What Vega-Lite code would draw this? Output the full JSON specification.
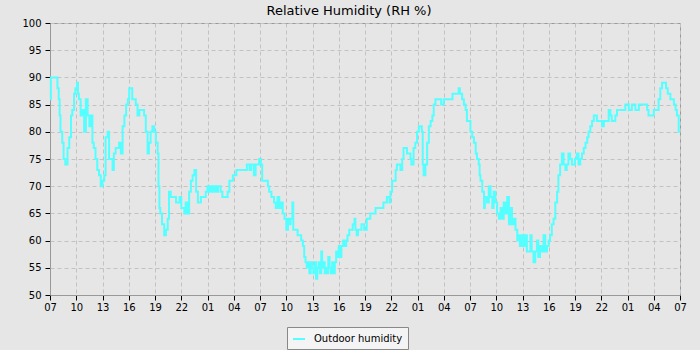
{
"$schema": "https://vega.github.io/schema/vega-lite/v6.json",
"width": 630, "height": 272,
"autosize": {"type": "none"},
"padding": {"left": 50, "top": 23, "right": 20, "bottom": 55},
"background": "#e6e6e6",
"title": {"text": "Relative Humidity (RH %)", "font": "DejaVu Sans", "fontSize": 13, "fontWeight": "normal", "color": "#000000", "anchor": "middle", "frame": "group", "baseline": "alphabetic", "offset": 2, "dx": -16, "dy": 12},
"config": {
  "font": "DejaVu Sans",
  "view": {"stroke": "#999999", "strokeWidth": 1},
  "axis": {"labelFont": "DejaVu Sans", "labelFontSize": 10, "labelColor": "#000000", "tickColor": "#000000", "domainColor": "#999999", "gridColor": "#c2c2c2", "gridDash": [4, 3]},
  "legend": {"orient": "none", "legendX": 237, "legendY": 304, "symbolType": "stroke", "symbolSize": 144, "symbolStrokeWidth": 2, "labelFont": "DejaVu Sans", "labelFontSize": 10, "labelColor": "#000000", "fillColor": "#f4f4f4", "strokeColor": "#888888", "padding": 5, "labelOffset": 8}
},
"data": {"values": [
{"time":"2024-05-01T07:00","rh":86},{"time":"2024-05-01T07:06","rh":90},{"time":"2024-05-01T07:42","rh":90},{"time":"2024-05-01T07:51","rh":88},
{"time":"2024-05-01T08:00","rh":86},{"time":"2024-05-01T08:06","rh":83},{"time":"2024-05-01T08:12","rh":80},{"time":"2024-05-01T08:24","rh":78},
{"time":"2024-05-01T08:33","rh":75},{"time":"2024-05-01T08:45","rh":74},{"time":"2024-05-01T09:00","rh":77},{"time":"2024-05-01T09:12","rh":79},
{"time":"2024-05-01T09:24","rh":83},{"time":"2024-05-01T09:33","rh":84},{"time":"2024-05-01T09:45","rh":87},{"time":"2024-05-01T09:54","rh":88},
{"time":"2024-05-01T10:06","rh":89},{"time":"2024-05-01T10:12","rh":87},{"time":"2024-05-01T10:18","rh":86},{"time":"2024-05-01T10:30","rh":83},
{"time":"2024-05-01T10:42","rh":84},{"time":"2024-05-01T10:54","rh":80},{"time":"2024-05-01T11:06","rh":86},{"time":"2024-05-01T11:18","rh":83},
{"time":"2024-05-01T11:30","rh":81},{"time":"2024-05-01T11:39","rh":83},{"time":"2024-05-01T11:51","rh":78},{"time":"2024-05-01T12:00","rh":77},
{"time":"2024-05-01T12:12","rh":75},{"time":"2024-05-01T12:24","rh":73},{"time":"2024-05-01T12:36","rh":72},{"time":"2024-05-01T12:48","rh":70},
{"time":"2024-05-01T13:00","rh":71},{"time":"2024-05-01T13:12","rh":72},{"time":"2024-05-01T13:21","rh":79},{"time":"2024-05-01T13:36","rh":80},
{"time":"2024-05-01T13:45","rh":75},{"time":"2024-05-01T13:57","rh":75},{"time":"2024-05-01T14:09","rh":73},{"time":"2024-05-01T14:18","rh":76},
{"time":"2024-05-01T14:30","rh":77},{"time":"2024-05-01T14:54","rh":78},{"time":"2024-05-01T15:06","rh":76},{"time":"2024-05-01T15:18","rh":81},
{"time":"2024-05-01T15:30","rh":83},{"time":"2024-05-01T15:42","rh":85},{"time":"2024-05-01T15:54","rh":86},{"time":"2024-05-01T16:03","rh":88},
{"time":"2024-05-01T16:15","rh":88},{"time":"2024-05-01T16:24","rh":86},{"time":"2024-05-01T16:48","rh":85},{"time":"2024-05-01T17:00","rh":83},
{"time":"2024-05-01T17:12","rh":84},{"time":"2024-05-01T17:36","rh":84},{"time":"2024-05-01T17:45","rh":83},{"time":"2024-05-01T17:57","rh":80},
{"time":"2024-05-01T18:09","rh":76},{"time":"2024-05-01T18:18","rh":78},{"time":"2024-05-01T18:30","rh":80},{"time":"2024-05-01T18:42","rh":81},
{"time":"2024-05-01T18:54","rh":80},{"time":"2024-05-01T19:06","rh":78},{"time":"2024-05-01T19:18","rh":76},{"time":"2024-05-01T19:24","rh":70},
{"time":"2024-05-01T19:30","rh":66},{"time":"2024-05-01T19:36","rh":65},{"time":"2024-05-01T19:48","rh":63},{"time":"2024-05-01T20:03","rh":61},
{"time":"2024-05-01T20:15","rh":62},{"time":"2024-05-01T20:27","rh":64},{"time":"2024-05-01T20:36","rh":69},{"time":"2024-05-01T20:48","rh":68},
{"time":"2024-05-01T21:00","rh":68},{"time":"2024-05-01T21:24","rh":67},{"time":"2024-05-01T21:48","rh":68},{"time":"2024-05-01T22:00","rh":66},
{"time":"2024-05-01T22:21","rh":65},{"time":"2024-05-01T22:30","rh":67},{"time":"2024-05-01T22:42","rh":65},{"time":"2024-05-01T22:54","rh":69},
{"time":"2024-05-01T23:06","rh":71},{"time":"2024-05-01T23:18","rh":72},{"time":"2024-05-01T23:30","rh":73},{"time":"2024-05-01T23:42","rh":69},
{"time":"2024-05-01T23:54","rh":67},{"time":"2024-05-02T00:15","rh":68},{"time":"2024-05-02T00:36","rh":68},{"time":"2024-05-02T00:48","rh":69},
{"time":"2024-05-02T01:00","rh":70},{"time":"2024-05-02T01:12","rh":69},{"time":"2024-05-02T01:24","rh":70},{"time":"2024-05-02T01:36","rh":69},
{"time":"2024-05-02T01:48","rh":70},{"time":"2024-05-02T02:00","rh":69},{"time":"2024-05-02T02:12","rh":70},{"time":"2024-05-02T02:30","rh":69},
{"time":"2024-05-02T02:42","rh":68},{"time":"2024-05-02T03:06","rh":68},{"time":"2024-05-02T03:18","rh":69},{"time":"2024-05-02T03:30","rh":71},
{"time":"2024-05-02T03:54","rh":72},{"time":"2024-05-02T04:18","rh":73},{"time":"2024-05-02T04:48","rh":73},{"time":"2024-05-02T05:12","rh":73},
{"time":"2024-05-02T05:30","rh":74},{"time":"2024-05-02T05:48","rh":73},{"time":"2024-05-02T06:00","rh":74},{"time":"2024-05-02T06:18","rh":72},
{"time":"2024-05-02T06:30","rh":74},{"time":"2024-05-02T06:42","rh":74},{"time":"2024-05-02T06:54","rh":75},{"time":"2024-05-02T07:06","rh":74},
{"time":"2024-05-02T07:15","rh":71},{"time":"2024-05-02T07:30","rh":71},{"time":"2024-05-02T07:54","rh":70},{"time":"2024-05-02T08:03","rh":69},
{"time":"2024-05-02T08:18","rh":68},{"time":"2024-05-02T08:30","rh":68},{"time":"2024-05-02T08:36","rh":67},{"time":"2024-05-02T08:48","rh":66},
{"time":"2024-05-02T09:00","rh":68},{"time":"2024-05-02T09:12","rh":66},{"time":"2024-05-02T09:24","rh":67},{"time":"2024-05-02T09:36","rh":65},
{"time":"2024-05-02T09:48","rh":64},{"time":"2024-05-02T10:00","rh":62},{"time":"2024-05-02T10:12","rh":64},{"time":"2024-05-02T10:21","rh":63},
{"time":"2024-05-02T10:30","rh":64},{"time":"2024-05-02T10:42","rh":67},{"time":"2024-05-02T10:48","rh":62},{"time":"2024-05-02T11:00","rh":62},
{"time":"2024-05-02T11:18","rh":61},{"time":"2024-05-02T11:30","rh":61},{"time":"2024-05-02T11:42","rh":60},{"time":"2024-05-02T11:54","rh":59},
{"time":"2024-05-02T12:03","rh":57},{"time":"2024-05-02T12:12","rh":56},{"time":"2024-05-02T12:21","rh":55},{"time":"2024-05-02T12:30","rh":56},
{"time":"2024-05-02T12:39","rh":54},{"time":"2024-05-02T12:48","rh":56},{"time":"2024-05-02T12:57","rh":55},{"time":"2024-05-02T13:06","rh":54},
{"time":"2024-05-02T13:15","rh":56},{"time":"2024-05-02T13:24","rh":53},{"time":"2024-05-02T13:33","rh":55},{"time":"2024-05-02T13:42","rh":56},
{"time":"2024-05-02T13:51","rh":54},{"time":"2024-05-02T14:00","rh":58},{"time":"2024-05-02T14:06","rh":55},{"time":"2024-05-02T14:15","rh":56},
{"time":"2024-05-02T14:24","rh":54},{"time":"2024-05-02T14:33","rh":55},{"time":"2024-05-02T14:42","rh":54},{"time":"2024-05-02T14:48","rh":57},
{"time":"2024-05-02T14:57","rh":55},{"time":"2024-05-02T15:06","rh":54},{"time":"2024-05-02T15:15","rh":56},{"time":"2024-05-02T15:24","rh":54},
{"time":"2024-05-02T15:33","rh":56},{"time":"2024-05-02T15:42","rh":58},{"time":"2024-05-02T15:51","rh":57},{"time":"2024-05-02T16:00","rh":59},
{"time":"2024-05-02T16:09","rh":57},{"time":"2024-05-02T16:18","rh":59},{"time":"2024-05-02T16:30","rh":60},{"time":"2024-05-02T16:42","rh":59},
{"time":"2024-05-02T16:51","rh":60},{"time":"2024-05-02T17:00","rh":61},{"time":"2024-05-02T17:12","rh":62},{"time":"2024-05-02T17:24","rh":62},
{"time":"2024-05-02T17:36","rh":63},{"time":"2024-05-02T17:48","rh":64},{"time":"2024-05-02T17:54","rh":62},{"time":"2024-05-02T18:03","rh":61},
{"time":"2024-05-02T18:12","rh":62},{"time":"2024-05-02T18:24","rh":62},{"time":"2024-05-02T18:36","rh":63},{"time":"2024-05-02T18:45","rh":63},
{"time":"2024-05-02T18:54","rh":62},{"time":"2024-05-02T19:12","rh":64},{"time":"2024-05-02T19:36","rh":65},{"time":"2024-05-02T20:00","rh":65},
{"time":"2024-05-02T20:12","rh":66},{"time":"2024-05-02T20:45","rh":66},{"time":"2024-05-02T21:06","rh":67},{"time":"2024-05-02T21:30","rh":68},
{"time":"2024-05-02T21:48","rh":67},{"time":"2024-05-02T21:54","rh":69},{"time":"2024-05-02T22:06","rh":71},{"time":"2024-05-02T22:18","rh":71},
{"time":"2024-05-02T22:30","rh":73},{"time":"2024-05-02T22:39","rh":74},{"time":"2024-05-02T22:51","rh":74},{"time":"2024-05-02T23:03","rh":73},
{"time":"2024-05-02T23:15","rh":75},{"time":"2024-05-02T23:24","rh":77},{"time":"2024-05-02T23:36","rh":77},{"time":"2024-05-02T23:48","rh":76},
{"time":"2024-05-03T00:00","rh":76},{"time":"2024-05-03T00:12","rh":75},{"time":"2024-05-03T00:18","rh":74},{"time":"2024-05-03T00:33","rh":77},
{"time":"2024-05-03T00:45","rh":78},{"time":"2024-05-03T00:57","rh":80},{"time":"2024-05-03T01:09","rh":81},{"time":"2024-05-03T01:21","rh":81},
{"time":"2024-05-03T01:30","rh":80},{"time":"2024-05-03T01:36","rh":74},{"time":"2024-05-03T01:42","rh":72},{"time":"2024-05-03T01:54","rh":74},
{"time":"2024-05-03T02:06","rh":78},{"time":"2024-05-03T02:18","rh":81},{"time":"2024-05-03T02:30","rh":82},{"time":"2024-05-03T02:42","rh":83},
{"time":"2024-05-03T02:51","rh":85},{"time":"2024-05-03T03:03","rh":86},{"time":"2024-05-03T03:27","rh":86},{"time":"2024-05-03T03:42","rh":85},
{"time":"2024-05-03T03:54","rh":85},{"time":"2024-05-03T04:00","rh":86},{"time":"2024-05-03T04:48","rh":86},{"time":"2024-05-03T05:00","rh":87},
{"time":"2024-05-03T05:30","rh":87},{"time":"2024-05-03T05:42","rh":88},{"time":"2024-05-03T05:51","rh":87},{"time":"2024-05-03T06:06","rh":86},
{"time":"2024-05-03T06:18","rh":85},{"time":"2024-05-03T06:30","rh":84},{"time":"2024-05-03T06:39","rh":82},{"time":"2024-05-03T06:51","rh":82},
{"time":"2024-05-03T07:03","rh":80},{"time":"2024-05-03T07:15","rh":79},{"time":"2024-05-03T07:27","rh":78},{"time":"2024-05-03T07:39","rh":76},
{"time":"2024-05-03T07:48","rh":75},{"time":"2024-05-03T08:00","rh":74},{"time":"2024-05-03T08:06","rh":72},{"time":"2024-05-03T08:12","rh":71},
{"time":"2024-05-03T08:24","rh":69},{"time":"2024-05-03T08:36","rh":66},{"time":"2024-05-03T08:42","rh":68},{"time":"2024-05-03T08:57","rh":67},
{"time":"2024-05-03T09:09","rh":70},{"time":"2024-05-03T09:21","rh":68},{"time":"2024-05-03T09:33","rh":66},{"time":"2024-05-03T09:42","rh":69},
{"time":"2024-05-03T09:54","rh":67},{"time":"2024-05-03T10:06","rh":65},{"time":"2024-05-03T10:18","rh":64},{"time":"2024-05-03T10:30","rh":66},
{"time":"2024-05-03T10:42","rh":64},{"time":"2024-05-03T10:51","rh":67},{"time":"2024-05-03T11:03","rh":65},{"time":"2024-05-03T11:15","rh":68},
{"time":"2024-05-03T11:27","rh":63},{"time":"2024-05-03T11:36","rh":66},{"time":"2024-05-03T11:48","rh":63},{"time":"2024-05-03T12:00","rh":64},
{"time":"2024-05-03T12:12","rh":62},{"time":"2024-05-03T12:24","rh":60},{"time":"2024-05-03T12:33","rh":61},{"time":"2024-05-03T12:42","rh":59},
{"time":"2024-05-03T12:54","rh":61},{"time":"2024-05-03T13:06","rh":59},{"time":"2024-05-03T13:18","rh":61},{"time":"2024-05-03T13:30","rh":58},
{"time":"2024-05-03T13:42","rh":58},{"time":"2024-05-03T13:54","rh":61},{"time":"2024-05-03T14:03","rh":58},{"time":"2024-05-03T14:15","rh":56},
{"time":"2024-05-03T14:27","rh":58},{"time":"2024-05-03T14:39","rh":60},{"time":"2024-05-03T14:48","rh":57},{"time":"2024-05-03T15:00","rh":59},
{"time":"2024-05-03T15:12","rh":58},{"time":"2024-05-03T15:24","rh":61},{"time":"2024-05-03T15:36","rh":58},{"time":"2024-05-03T15:48","rh":59},
{"time":"2024-05-03T16:00","rh":60},{"time":"2024-05-03T16:09","rh":61},{"time":"2024-05-03T16:21","rh":63},{"time":"2024-05-03T16:33","rh":64},
{"time":"2024-05-03T16:45","rh":67},{"time":"2024-05-03T16:57","rh":69},{"time":"2024-05-03T17:06","rh":72},{"time":"2024-05-03T17:18","rh":74},
{"time":"2024-05-03T17:30","rh":76},{"time":"2024-05-03T17:42","rh":74},{"time":"2024-05-03T17:54","rh":73},{"time":"2024-05-03T18:03","rh":74},
{"time":"2024-05-03T18:15","rh":76},{"time":"2024-05-03T18:27","rh":75},{"time":"2024-05-03T18:39","rh":74},{"time":"2024-05-03T19:00","rh":75},
{"time":"2024-05-03T19:12","rh":76},{"time":"2024-05-03T19:24","rh":74},{"time":"2024-05-03T19:36","rh":75},{"time":"2024-05-03T19:48","rh":76},
{"time":"2024-05-03T20:00","rh":77},{"time":"2024-05-03T20:12","rh":78},{"time":"2024-05-03T20:24","rh":79},{"time":"2024-05-03T20:33","rh":80},
{"time":"2024-05-03T20:45","rh":81},{"time":"2024-05-03T20:57","rh":82},{"time":"2024-05-03T21:09","rh":83},{"time":"2024-05-03T21:18","rh":83},
{"time":"2024-05-03T21:30","rh":82},{"time":"2024-05-03T21:54","rh":82},{"time":"2024-05-03T22:06","rh":81},{"time":"2024-05-03T22:18","rh":82},
{"time":"2024-05-03T22:51","rh":84},{"time":"2024-05-03T23:03","rh":83},{"time":"2024-05-03T23:12","rh":82},{"time":"2024-05-03T23:36","rh":83},
{"time":"2024-05-03T23:48","rh":84},{"time":"2024-05-04T00:24","rh":84},{"time":"2024-05-04T00:45","rh":85},{"time":"2024-05-04T01:09","rh":84},
{"time":"2024-05-04T01:30","rh":85},{"time":"2024-05-04T01:54","rh":84},{"time":"2024-05-04T02:18","rh":85},{"time":"2024-05-04T03:15","rh":84},
{"time":"2024-05-04T03:24","rh":83},{"time":"2024-05-04T04:00","rh":84},{"time":"2024-05-04T04:33","rh":86},{"time":"2024-05-04T04:45","rh":88},
{"time":"2024-05-04T04:57","rh":89},{"time":"2024-05-04T05:24","rh":88},{"time":"2024-05-04T05:36","rh":87},{"time":"2024-05-04T05:54","rh":86},
{"time":"2024-05-04T06:18","rh":85},{"time":"2024-05-04T06:30","rh":84},{"time":"2024-05-04T06:39","rh":83},{"time":"2024-05-04T06:51","rh":80},
{"time":"2024-05-04T07:00","rh":80}
]},
"mark": {"type": "line", "interpolate": "step-after", "strokeWidth": 2},
"encoding": {
  "x": {"field": "time", "type": "temporal",
    "scale": {"domain": [{"year": 2024, "month": 5, "date": 1, "hours": 7}, {"year": 2024, "month": 5, "date": 4, "hours": 7}]},
    "axis": {"format": "%H", "grid": true, "tickSize": 5, "labelPadding": 2, "labelFlush": false, "labelOverlap": false, "title": null,
      "values": [
        {"year": 2024, "month": 5, "date": 1, "hours": 7}, {"year": 2024, "month": 5, "date": 1, "hours": 10}, {"year": 2024, "month": 5, "date": 1, "hours": 13},
        {"year": 2024, "month": 5, "date": 1, "hours": 16}, {"year": 2024, "month": 5, "date": 1, "hours": 19}, {"year": 2024, "month": 5, "date": 1, "hours": 22},
        {"year": 2024, "month": 5, "date": 2, "hours": 1}, {"year": 2024, "month": 5, "date": 2, "hours": 4}, {"year": 2024, "month": 5, "date": 2, "hours": 7},
        {"year": 2024, "month": 5, "date": 2, "hours": 10}, {"year": 2024, "month": 5, "date": 2, "hours": 13}, {"year": 2024, "month": 5, "date": 2, "hours": 16},
        {"year": 2024, "month": 5, "date": 2, "hours": 19}, {"year": 2024, "month": 5, "date": 2, "hours": 22}, {"year": 2024, "month": 5, "date": 3, "hours": 1},
        {"year": 2024, "month": 5, "date": 3, "hours": 4}, {"year": 2024, "month": 5, "date": 3, "hours": 7}, {"year": 2024, "month": 5, "date": 3, "hours": 10},
        {"year": 2024, "month": 5, "date": 3, "hours": 13}, {"year": 2024, "month": 5, "date": 3, "hours": 16}, {"year": 2024, "month": 5, "date": 3, "hours": 19},
        {"year": 2024, "month": 5, "date": 3, "hours": 22}, {"year": 2024, "month": 5, "date": 4, "hours": 1}, {"year": 2024, "month": 5, "date": 4, "hours": 4},
        {"year": 2024, "month": 5, "date": 4, "hours": 7}
      ]}},
  "y": {"field": "rh", "type": "quantitative",
    "scale": {"domain": [50, 100], "nice": false, "zero": false},
    "axis": {"values": [50, 55, 60, 65, 70, 75, 80, 85, 90, 95, 100], "grid": true, "tickSize": 5, "labelPadding": 4, "title": null}},
  "color": {"datum": "Outdoor humidity", "type": "nominal", "scale": {"range": ["#55ffff"]}, "legend": {"title": null}}
}
}
